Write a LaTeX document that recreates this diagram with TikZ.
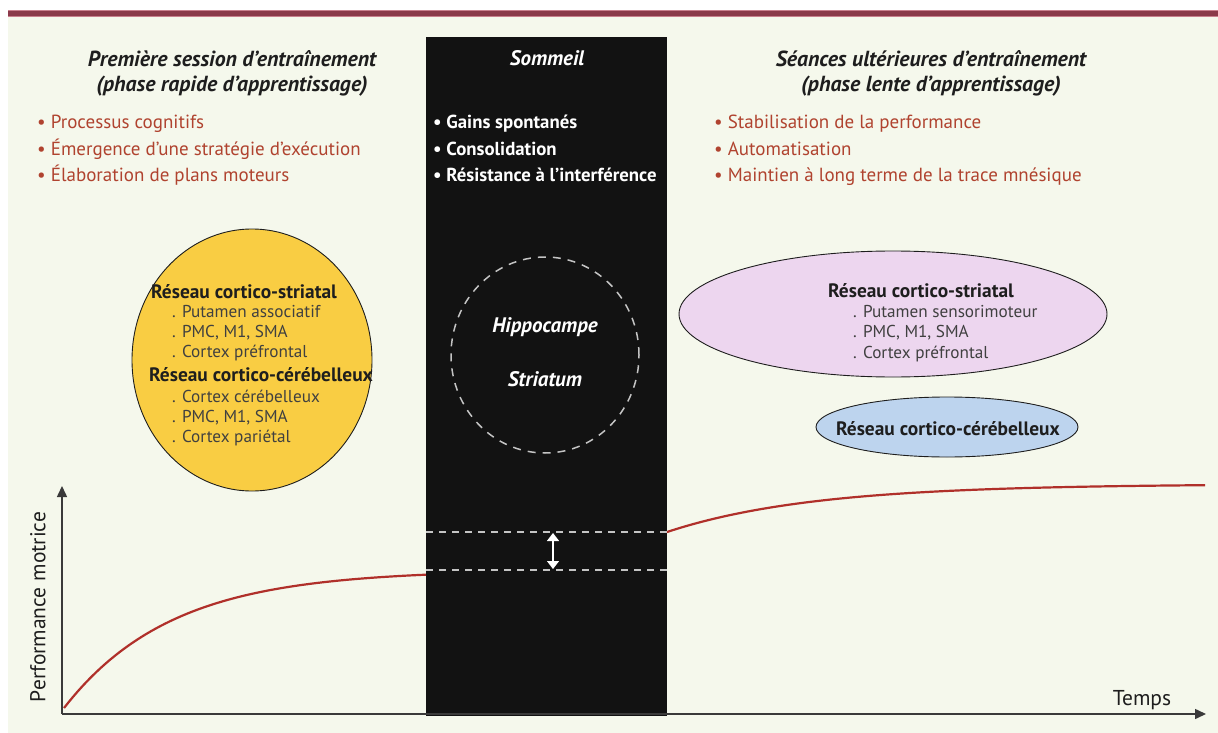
\documentclass[tikz,border=0pt]{standalone}
\usepackage{fontspec}
\setmainfont{PT Sans}
\usetikzlibrary{arrows.meta,shapes.geometric}
\definecolor{bgc}{HTML}{F5F8EC}
\definecolor{barc}{HTML}{8B3A4A}
\definecolor{baredge}{HTML}{C9808E}
\definecolor{boxc}{HTML}{121212}
\definecolor{redc}{HTML}{B0432F}
\definecolor{curvec}{HTML}{B0302A}
\definecolor{darkc}{HTML}{1E1E1E}
\definecolor{yellowc}{HTML}{F9CD43}
\definecolor{pinkc}{HTML}{EDD6EF}
\definecolor{bluec}{HTML}{BDD4EE}
\definecolor{axisc}{HTML}{3A3A3A}
\definecolor{dashc}{HTML}{C4C4C4}
\tikzset{
  titletext/.style={font=\fontsize{21.8}{24}\selectfont\bfseries\itshape, text=darkc, inner sep=0, anchor=base},
  redbullet/.style={font=\fontsize{19}{22}\selectfont, text=redc, inner sep=0, anchor=base west},
  whitebullet/.style={font=\fontsize{18.8}{22}\selectfont\bfseries, text=white, inner sep=0, anchor=base west},
  whitetitle/.style={font=\fontsize{21}{24}\selectfont\bfseries\itshape, text=white, inner sep=0, anchor=base},
  nethead/.style={font=\fontsize{19.4}{22}\selectfont\bfseries, text=darkc, inner sep=0, anchor=base west},
  netitem/.style={font=\fontsize{17.2}{19}\selectfont, text=darkc!85, inner sep=0, anchor=base west},
  blob/.style={ellipse, draw=darkc, line width=0.9pt, inner sep=0},
  axisline/.style={draw=axisc, line width=1.5pt, -{Triangle[length=11pt,width=10pt]}},
  perfcurve/.style={draw=curvec, line width=2.2pt},
  gapline/.style={draw=dashc, line width=1.5pt, dash pattern=on 7pt off 6pt},
  gaparrow/.style={draw=white, line width=1.3pt, {Triangle[length=8pt,width=12pt]}-{Triangle[length=8pt,width=12pt]}},
  axislabel/.style={font=\fontsize{21.5}{24}\selectfont, text=darkc, inner sep=0},
}
\begin{document}
\begin{tikzpicture}[x=1pt,y=-1pt]
\useasboundingbox (0,0) rectangle (1218,733);
\fill[white] (0,0) rectangle (1218,733);
\fill[bgc] (8,17) rectangle (1218,733);
\fill[barc] (8,10) rectangle (1218,17);
\draw[baredge, line width=0.8pt] (8,10.4) -- (1218,10.4);
\draw[baredge, line width=0.8pt] (8,16.6) -- (1218,16.6);

% sleep column
\fill[boxc] (426,37) rectangle (667,716);

% left column
\node[titletext] (lt1) at (232,67) {Première session d’entraînement};
\node[titletext] (lt2) at (232,92) {(phase rapide d’apprentissage)};
\node[redbullet] (lb1) at (37,129) {• Processus cognitifs};
\node[redbullet] (lb2) at (37,155) {• Émergence d’une stratégie d’exécution};
\node[redbullet] (lb3) at (37,181) {• Élaboration de plans moteurs};

% middle column
\node[whitetitle] (st) at (547,66) {Sommeil};
\node[whitebullet] (sb1) at (433,129) {• Gains spontanés};
\node[whitebullet] (sb2) at (433,155) {• Consolidation};
\node[whitebullet] (sb3) at (433,181) {• Résistance à l’interférence};

% right column
\node[titletext] (rt1) at (931,67) {Séances ultérieures d’entraînement};
\node[titletext] (rt2) at (931,92) {(phase lente d’apprentissage)};
\node[redbullet] (rb1) at (714,129) {• Stabilisation de la performance};
\node[redbullet] (rb2) at (714,155) {• Automatisation};
\node[redbullet] (rb3) at (714,181) {• Maintien à long terme de la trace mnésique};

% yellow network
\node[blob, fill=yellowc, minimum width=240pt, minimum height=262pt] (yel) at (252,360) {};
\node[nethead] (y1) at (151,298) {Réseau cortico-striatal};
\node[netitem] (y2) at (172,317) {. Putamen associatif};
\node[netitem] (y3) at (172,337) {. PMC, M1, SMA};
\node[netitem] (y4) at (172,357) {. Cortex préfrontal};
\node[nethead] (y5) at (149,381) {Réseau cortico-cérébelleux};
\node[netitem] (y6) at (172,402) {. Cortex cérébelleux};
\node[netitem] (y7) at (172,422) {. PMC, M1, SMA};
\node[netitem] (y8) at (172,442) {. Cortex pariétal};

% dashed circle
\node[ellipse, draw=dashc, line width=1.5pt, dash pattern=on 8pt off 7pt, minimum width=188pt, minimum height=196pt] (hip) at (545,355) {};
\node[whitetitle] (h1) at (545,332) {Hippocampe};
\node[whitetitle] (h2) at (545,386) {Striatum};

% pink network
\node[blob, fill=pinkc, minimum width=428pt, minimum height=126pt] (pink) at (893,314) {};
\node[nethead] (p1) at (828,297) {Réseau cortico-striatal};
\node[netitem] (p2) at (853,317) {. Putamen sensorimoteur};
\node[netitem] (p3) at (853,337) {. PMC, M1, SMA};
\node[netitem] (p4) at (853,358) {. Cortex préfrontal};

% blue network
\node[blob, fill=bluec, minimum width=262pt, minimum height=60pt] (blue) at (947,427) {};
\node[nethead, anchor=base] (b1) at (948,435) {Réseau cortico-cérébelleux};

% axes
\coordinate (O) at (62,714);
\coordinate (ytop) at (62,486);
\coordinate (xend) at (1206,714);
\draw[axisline] (O) -- (ytop);
\draw[axisline] (O) -- (xend);
\node[axislabel, rotate=90] (ylab) at (38,607) {Performance motrice};
\node[axislabel, anchor=base] (xlab) at (1142,705) {Temps};

% curves
\draw[perfcurve] plot[domain=64:426, samples=80] (\x, {570+138*exp(-(\x-64)/107)});
\draw[perfcurve] plot[domain=667:1205, samples=80] (\x, {484+48*exp(-(\x-667)/145)});

% gap lines
\coordinate (g1l) at (426,532);
\coordinate (g1r) at (667,532);
\coordinate (g2l) at (426,570);
\coordinate (g2r) at (667,570);
\draw[gapline] (g1l) -- (g1r);
\draw[gapline] (g2l) -- (g2r);
\coordinate (ga) at (553,533);
\coordinate (gb) at (553,569);
\draw[gaparrow] (ga) -- (gb);
\end{tikzpicture}
\end{document}
